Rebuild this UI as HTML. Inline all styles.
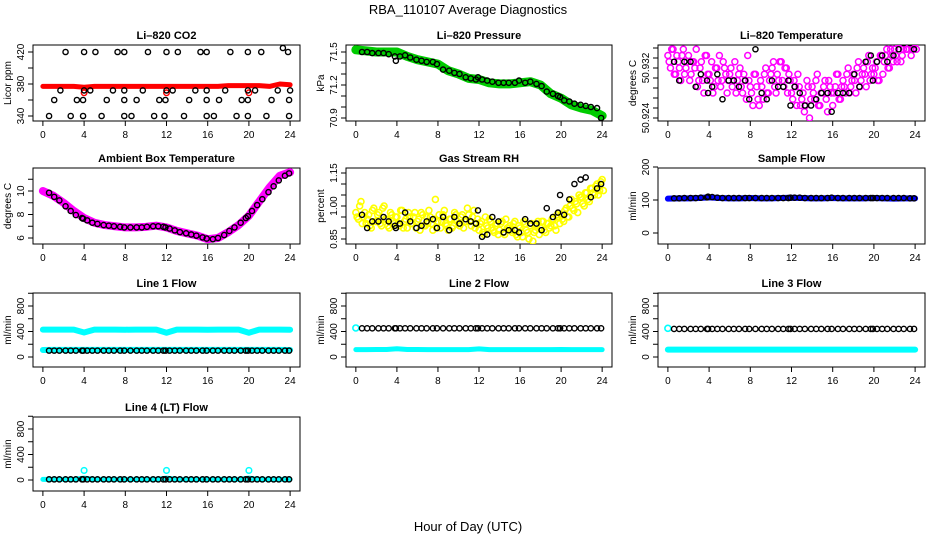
<!DOCTYPE html>
<html><head><meta charset="utf-8"><style>
html,body{margin:0;padding:0;background:#fff;}
svg{display:block;font-family:"Liberation Sans",sans-serif;}
</style></head><body>
<svg id="chart" width="936" height="540" viewBox="0 0 936 540">
<rect width="936" height="540" fill="#fff"/>
<text x="468" y="14" text-anchor="middle" font-size="13">RBA_110107  Average Diagnostics</text>
<text x="468" y="531" text-anchor="middle" font-size="13">Hour of Day (UTC)</text>
</svg>
<script>
const xTicks = [0,4,8,12,16,20,24];
const blackHours = [0.6,1.1,1.6,2.2,2.7,3.2,3.8,3.9,4.3,4.8,5.3,5.9,6.4,6.9,7.5,7.9,8.5,9.1,9.6,10.1,10.7,11.2,11.7,11.9,12.3,12.8,13.3,13.9,14.4,14.9,15.5,15.9,16.5,17.0,17.6,18.1,18.6,19.2,19.7,19.9,20.3,20.8,21.3,21.9,22.4,22.9,23.5,23.9];
const hourlyHours = [0,1,2,3,4,5,6,7,8,9,10,11,12,13,14,15,16,17,18,19,20,21,22,23,24];

const co2Red = [377,377,377,377,376,377,377,377,377,377,377,377,377,377,377,377,377,377,378,378,378,378,377,380,379];
const co2RedDipHours = [4,12,20];
const co2RedDipVals = [369,369,369];
const co2BlackHours = [2.2,4.0,5.1,7.25,7.9,10.2,12.0,13.1,15.3,15.9,18.2,19.9,21.2,23.3,23.8, 1.7,4.0,4.6,6.8,7.9,9.7,12.0,12.6,14.8,15.9,17.7,19.9,20.6,22.8,24.0, 1.1,3.3,3.9,6.2,7.9,9.1,11.3,11.9,14.2,15.9,17.1,19.3,19.9,22.2,23.9, 0.6,2.7,3.9,5.7,7.9,8.6,10.8,11.8,13.7,15.9,16.6,18.8,19.9,21.7,23.9];
const co2BlackVals = [420,420,420,420,420,420,420,420,420,420,420,420,420,425,420, 372,372,372,372,372,372,372,372,372,372,372,372,372,372,372, 360,360,360,360,360,360,360,360,360,360,360,360,360,360,360, 340,340,340,340,340,340,340,340,340,340,340,340,340,340,340];

const pressGreen = [71.52,71.51,71.50,71.50,71.50,71.46,71.43,71.41,71.39,71.33,71.30,71.26,71.25,71.22,71.21,71.21,71.22,71.23,71.20,71.12,71.08,71.02,70.99,70.97,70.92];
const pressBlack = [71.50,71.50,71.49,71.49,71.49,71.48,71.46,71.42,71.46,71.47,71.45,71.43,71.42,71.41,71.41,71.39,71.34,71.33,71.31,71.30,71.27,71.26,71.25,71.27,71.25,71.24,71.23,71.22,71.22,71.22,71.22,71.24,71.22,71.23,71.21,71.19,71.14,71.12,71.10,71.09,71.06,71.05,71.03,71.02,71.01,71.00,70.99,70.90];

const tempPinkA = [50.934,50.932,50.935,50.931,50.933,50.930,50.935,50.932,50.934,50.931,50.933,50.935,50.930,50.933,50.928,50.934,50.931,50.933,50.929,50.932,50.934,50.930,50.932,50.928,50.931,50.929,50.933,50.930,50.932,50.928,50.930,50.934,50.929,50.926,50.931,50.927,50.930,50.927,50.932,50.928,50.931,50.933,50.928,50.930,50.933,50.929,50.932,50.931,50.928,50.930,50.926,50.929,50.927,50.925,50.930,50.924,50.929,50.927,50.931,50.926,50.928,50.930,50.925,50.929,50.926,50.929,50.931,50.927,50.930,50.928,50.932,50.929,50.931,50.928,50.933,50.930,50.932,50.929,50.934,50.931,50.931,50.933,50.930,50.934,50.933,50.935,50.932,50.934,50.935,50.933,50.936,50.934,50.936,50.935,50.936,50.935,50.936];
const tempPinkB = [50.933,50.935,50.931,50.934,50.932,50.934,50.931,50.933,50.930,50.933,50.932,50.929,50.932,50.930,50.934,50.931,50.930,50.928,50.932,50.930,50.929,50.933,50.931,50.930,50.932,50.930,50.928,50.931,50.929,50.931,50.927,50.930,50.928,50.931,50.929,50.926,50.929,50.931,50.928,50.930,50.932,50.929,50.931,50.933,50.930,50.932,50.928,50.930,50.927,50.929,50.931,50.926,50.928,50.926,50.929,50.927,50.928,50.930,50.926,50.928,50.929,50.927,50.930,50.928,50.928,50.931,50.927,50.929,50.929,50.931,50.928,50.930,50.930,50.932,50.929,50.931,50.931,50.933,50.930,50.932,50.932,50.930,50.934,50.931,50.934,50.932,50.935,50.933,50.934,50.936,50.933,50.935,50.935,50.936,50.934,50.936,50.935];
const tempBlack = [50.933,50.930,50.933,50.933,50.929,50.931,50.930,50.928,50.929,50.931,50.927,50.930,50.930,50.929,50.930,50.927,50.935,50.928,50.927,50.930,50.929,50.929,50.930,50.926,50.929,50.928,50.926,50.926,50.927,50.928,50.928,50.925,50.928,50.928,50.928,50.931,50.929,50.933,50.934,50.930,50.933,50.934,50.933,50.934,50.935,50.936,50.936,50.935];

const ambPink = [10.0,9.6,9.0,8.3,7.7,7.3,7.1,7.0,6.9,6.9,6.95,7.05,6.9,6.6,6.4,6.2,5.9,6.0,6.5,7.1,7.9,9.1,10.3,11.3,11.6];
const ambBlack = [9.85,9.5,9.2,8.7,8.3,7.95,7.7,7.65,7.5,7.3,7.2,7.1,7.05,7.0,6.95,6.9,6.9,6.9,6.9,6.95,7.0,7.0,6.95,6.9,6.8,6.65,6.5,6.4,6.3,6.2,6.05,5.95,5.9,6.0,6.25,6.6,6.9,7.3,7.7,7.85,8.3,8.8,9.3,9.9,10.4,10.9,11.3,11.5];

const rhYellowA = [0.97,0.94,1.02,0.95,0.92,0.96,0.90,0.99,0.93,0.97,0.91,1.00,0.94,0.90,0.96,0.92,0.95,0.91,0.98,0.93,0.90,0.95,0.92,0.97,0.93,0.89,0.96,0.91,0.92,0.95,0.89,1.03,0.93,0.90,0.96,0.92,0.89,0.94,0.91,0.96,0.92,0.95,0.90,0.93,0.96,0.91,0.98,0.92,0.89,0.93,0.87,0.91,0.94,0.90,0.88,0.92,0.89,0.93,0.87,0.90,0.91,0.88,0.93,0.86,0.90,0.86,0.92,0.88,0.91,0.84,0.89,0.93,0.90,0.93,0.88,0.92,0.91,0.94,0.89,0.95,0.96,0.93,0.99,0.95,1.03,0.98,1.01,1.05,1.04,1.00,1.06,1.02,1.08,1.05,1.10,1.07,1.12,1.04,1.15,1.09,1.03];
const rhYellowB = [0.95,1.00,0.92,0.97,0.94,0.91,0.98,0.93,0.96,0.92,0.99,0.94,0.91,0.97,0.93,0.95,0.92,0.98,0.90,0.94,0.97,0.92,0.95,0.90,0.94,0.97,0.91,0.95,0.98,0.92,0.94,0.90,0.96,0.93,0.98,0.91,0.94,0.90,0.97,0.93,0.91,0.96,0.93,0.99,0.93,0.95,0.90,0.94,0.92,0.88,0.95,0.90,0.93,0.89,0.91,0.87,0.92,0.88,0.94,0.90,0.89,0.92,0.87,0.91,0.88,0.93,0.89,0.85,0.92,0.88,0.91,0.87,0.93,0.89,0.92,0.90,0.94,0.91,0.96,0.92,0.94,0.98,0.95,1.00,0.99,1.02,0.97,1.04,1.01,1.06,1.03,1.08,1.06,1.09,1.05,1.11,1.07,1.10,1.02,1.06,1.08];
const rhBlack = [0.96,0.90,0.93,0.93,0.95,0.93,0.91,0.90,0.92,0.97,0.93,0.90,0.91,0.93,0.94,0.90,0.95,0.89,0.95,0.92,0.94,0.93,0.92,0.98,0.86,0.87,0.95,0.93,0.88,0.89,0.89,0.88,0.94,0.92,0.92,0.89,0.99,0.95,0.97,1.05,0.96,1.03,1.10,1.12,1.13,1.04,1.08,1.10];

const sampleBlue = [104,105,105,106,108,106,105,105,106,105,105,106,107,106,105,105,106,105,105,105,106,105,104,105,105];
const sampleBlack = [105,105,106,106,106,107,108,110,109,107,106,106,106,106,106,106,106,106,106,106,106,106,106,107,107,107,106,106,106,106,106,107,106,106,106,106,106,106,106,106,106,106,106,106,106,106,105,105];

const line1CyanHigh = [430,430,430,430,385,430,430,430,428,430,430,430,380,430,430,430,428,430,430,430,380,430,430,430,428];
const line1CyanLow = [110,112,112,112,112,112,112,112,112,112,112,112,112,112,112,112,112,112,112,112,112,112,112,112,110];
const line1Black = [100,100,100,100,100,100,100,100,100,100,100,100,100,100,100,100,100,100,100,100,100,100,100,100,100,100,100,100,100,100,100,100,100,100,100,100,100,100,100,100,100,100,100,100,100,100,100,100];
const line2CyanHigh = [455];
const line2CyanLow = [115,115,118,118,130,118,118,116,116,116,116,116,128,116,116,116,116,116,116,116,118,116,116,116,115];
const line2Black = [450,450,450,450,450,450,450,450,450,450,450,450,450,450,450,450,450,450,450,450,450,450,450,450,450,450,450,450,450,450,450,450,450,450,450,450,450,450,450,450,450,450,450,450,450,450,450,450];
const line3CyanHigh = [450];
const line3CyanLow = [115,115,115,115,115,115,115,115,115,115,115,115,115,115,115,115,115,115,115,115,115,115,115,115,115];
const line3Black = [440,440,440,440,440,440,440,440,440,440,440,440,440,440,440,440,440,440,440,440,440,440,440,440,440,440,440,440,440,440,440,440,440,440,440,440,440,440,440,440,440,440,440,440,440,440,440,440];
const line4Cyan = [10,10,10,10,150,10,10,10,10,10,10,10,150,10,10,10,10,10,10,10,150,10,10,10,10];
const line4Black = [10,10,10,10,10,10,10,10,10,10,10,10,10,10,10,10,10,10,10,10,10,10,10,10,10,10,10,10,10,10,10,10,10,10,10,10,10,10,10,10,10,10,10,10,10,10,10,10];

const NS = "http://www.w3.org/2000/svg";
const svg = document.getElementById('chart');
function mk(tag, attrs, parent){ const e=document.createElementNS(NS,tag); for(const k in attrs) e.setAttribute(k,attrs[k]); (parent||svg).appendChild(e); return e; }
const cols=[[33,300],[346,612],[658,925]];
const rows=[[45,121],[168,244],[293,367],[417,491]];

function panel(name, c, r, title, ylab, yv0, yp0, yv1, yp1, yTicks, yLabels){
  const [L,R]=cols[c], [T,B]=rows[r];
  const g=mk('g',{});
  
  
  const xs=h=>L+(h+0.96)/25.92*(R-L);
  const ys=v=>yp0+(v-yv0)/(yv1-yv0)*(yp1-yp0);
  const box=mk('rect',{x:L,y:T,width:R-L,height:B-T,fill:'none',stroke:'#000','stroke-width':1},g);
  
  
  const t=mk('text',{x:(L+R)/2,y:T-6,'text-anchor':'middle','font-size':11,'font-weight':'bold'},g);
  t.textContent=title;
  
  
  xTicks.forEach(h=>{
    const x=xs(h);
    mk('line',{x1:x,x2:x,y1:B,y2:B+5,stroke:'#000'},g);
    const tl=mk('text',{x:x,y:B+17,'text-anchor':'middle','font-size':10},g);
    tl.textContent=h;
    
    
  });
  yTicks.forEach(v=>{ const y=ys(v); mk('line',{x1:L-5,x2:L,y1:y,y2:y,stroke:'#000'},g); });
  yLabels.forEach(v=>{
    const y=ys(v);
    const yl=mk('text',{x:L-9,y:y,'text-anchor':'middle','font-size':10,transform:`rotate(-90 ${L-9} ${y})`},g);
    yl.textContent=v;
    
    
  });
  const ya=mk('text',{x:L-22,y:(T+B)/2,'text-anchor':'middle','font-size':10,transform:`rotate(-90 ${L-22} ${(T+B)/2})`},g);
  ya.textContent=ylab;
  
  
  const clipId='clip'+name;
  const cp=mk('clipPath',{id:clipId},g); mk('rect',{x:L,y:T,width:R-L,height:B-T},cp);
  const pg=mk('g',{'clip-path':`url(#${clipId})`},g);
  return {
    band(hours, vals, color, w, series){
      const n=Math.min(hours.length, vals.length);
      let pts=[]; for(let i=0;i<n;i++) pts.push(xs(hours[i])+','+ys(vals[i]));
      const pl=mk('polyline',{points:pts.join(' '),fill:'none',stroke:color,'stroke-width':w,'stroke-linejoin':'round','stroke-linecap':'round'},pg);
      
      
    },
    points(hours, vals, color, rr, sw, series){
      const n=Math.min(hours.length, vals.length);
      for(let i=0;i<n;i++){
        const ci=mk('circle',{cx:xs(hours[i]),cy:ys(vals[i]),r:rr,fill:'none',stroke:color,'stroke-width':sw},pg);
        
        
      }
    }
  };
}
const qHours=[]; for(let i=0;i<97;i++) qHours.push(i*0.25);
const qHoursB=[]; for(let i=0;i<97;i++) qHoursB.push(i*0.25+0.12);
const dense=[]; for(let i=0;i<=96;i++) dense.push(i*0.25);

// CO2
let p=panel('co2',0,0,'Li\u2013820 CO2','Licor ppm',340,116,420,52,[340,360,380,400,420],[340,380,420]);
p.band(hourlyHours,co2Red,'#ff0000',5,'co2-red-series');
p.points(co2RedDipHours,co2RedDipVals,'#ff0000',2.8,1.4,'co2-red-outlier');
p.points(co2BlackHours,co2BlackVals,'#000',2.6,1.4,'co2-black');
// Pressure
p=panel('pressure',1,0,'Li\u2013820 Pressure','kPa',70.9,118,71.5,52,[70.9,71.0,71.1,71.2,71.3,71.4,71.5],[70.9,71.2,71.5]);
p.band(hourlyHours,pressGreen,'#00cc00',9,'pressure-green-series');
p.points(blackHours,pressBlack,'#000',2.6,1.4,'pressure-black');
// Li temp
p=panel('li-temp',2,0,'Li\u2013820 Temperature','degrees C',50.924,118,50.932,68,[50.924,50.9256,50.9272,50.9288,50.9304,50.932,50.9336,50.9352],[50.924,50.932]);
p.points(qHours,tempPinkA,'#ff00ff',3,1.5,'li-temp-magenta');
p.points(qHoursB,tempPinkB,'#ff00ff',3,1.5,'li-temp-magenta-b');
p.points(blackHours,tempBlack,'#000',2.6,1.4,'li-temp-black');
// Ambient
p=panel('ambient-temp',0,1,'Ambient Box Temperature','degrees C',6,238,10,191,[6,7,8,9,10,11],[6,8,10]);
p.band(hourlyHours,ambPink,'#ff00ff',8,'ambient-magenta-series');
p.points(blackHours,ambBlack,'#000',2.6,1.4,'ambient-black');
// RH
p=panel('rh',1,1,'Gas Stream RH','percent',0.85,239,1.15,173,[0.85,0.90,0.95,1.00,1.05,1.10,1.15],['0.85','1.00','1.15']);
p.points(qHours,rhYellowA,'#ffff00',3,1.6,'rh-yellow');
p.points(qHoursB,rhYellowB,'#ffff00',3,1.6,'rh-yellow-b');
p.points(blackHours,rhBlack,'#000',2.6,1.4,'rh-black');
// Sample flow
p=panel('sample-flow',2,1,'Sample Flow','ml/min',0,233,200,167,[0,100,200],[0,100,200]);
p.band(hourlyHours,sampleBlue,'#0000ff',6,'sample-blue-series');
p.points(blackHours,sampleBlack,'#000',2.6,1.4,'sample-black');
// Line flows
const fT=[0,200,400,600,800,1000], fL=[0,400,800];
p=panel('line1-flow',0,2,'Line 1 Flow','ml/min',0,357,800,306,fT,fL);
p.band(hourlyHours,line1CyanHigh,'#00ffff',6,'line1-cyan-high');
p.band(hourlyHours,line1CyanLow,'#00ffff',6,'line1-cyan-low');
p.points(blackHours,line1Black,'#000',2.6,1.4,'line1-black');
p=panel('line2-flow',1,2,'Line 2 Flow','ml/min',0,357,800,306,fT,fL);
p.points([0],line2CyanHigh,'#00ffff',3,1.6,'line2-cyan-high');
p.band(hourlyHours,line2CyanLow,'#00ffff',5,'line2-cyan-low');
p.points(blackHours,line2Black,'#000',2.6,1.4,'line2-black');
p=panel('line3-flow',2,2,'Line 3 Flow','ml/min',0,357,800,306,fT,fL);
p.points([0],line3CyanHigh,'#00ffff',3,1.6,'line3-cyan-high');
p.band(hourlyHours,line3CyanLow,'#00ffff',6,'line3-cyan-low');
p.points(blackHours,line3Black,'#000',2.6,1.4,'line3-black');
p=panel('line4-flow',0,3,'Line 4 (LT) Flow','ml/min',0,480,800,429,fT,fL);
p.band(hourlyHours,line4Cyan.map(v=>Math.min(v,30)),'#00ffff',5,'line4-cyan');
p.points([4,12,20],[line4Cyan[4],line4Cyan[12],line4Cyan[20]],'#00ffff',2.8,1.5,'line4-cyan-spike');
p.points(blackHours,line4Black,'#000',2.6,1.4,'line4-black');
</script>
</body></html>
